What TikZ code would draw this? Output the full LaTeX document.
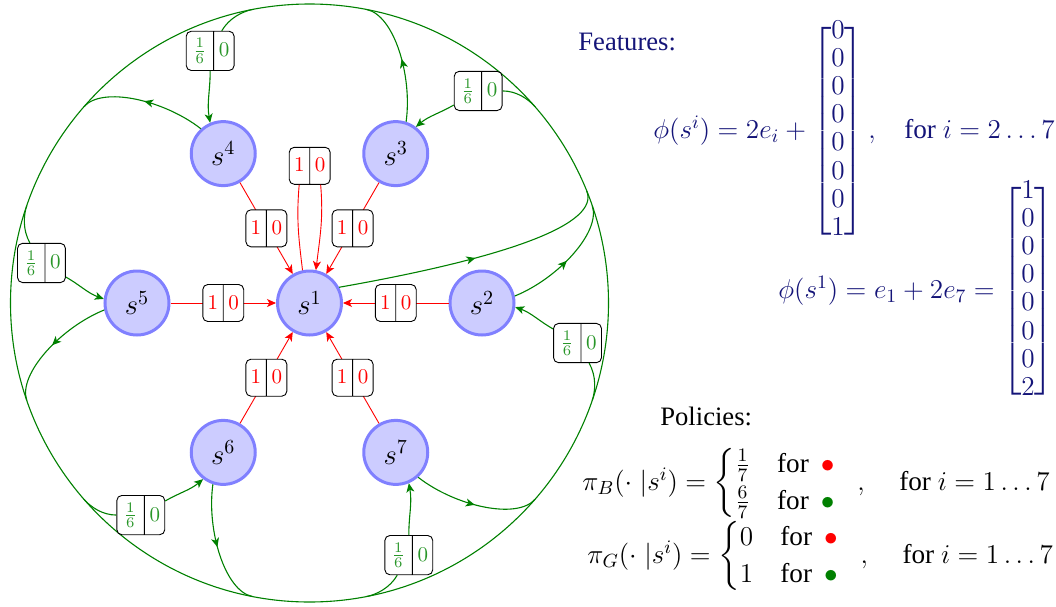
\RequirePackage{fix-cm}
\documentclass[12pt,tikz,border=0pt]{standalone}
\usepackage{amsmath}
\usepackage[no-math]{fontspec}
\setmainfont{Liberation Serif}
\usetikzlibrary{arrows.meta,shapes.multipart,decorations.markings,calc}
\definecolor{grn}{RGB}{0,128,0}
\definecolor{gtext}{RGB}{40,150,40}
\definecolor{navy}{RGB}{20,20,120}
\definecolor{nodefill}{RGB}{204,204,255}
\definecolor{nodedraw}{RGB}{128,128,255}
\newcommand\bstrut{\rule[-3pt]{0pt}{12pt}}
\newcommand\eqfont{\fontsize{13.6}{15.5}\selectfont}
\newcommand\hdfont{\fontsize{13.3}{15.5}\selectfont}
\newcommand\tightmat{\renewcommand\arraystretch{0.91}\delimiterfactor=850 \delimitershortfall=10pt }
\begin{document}
\begin{tikzpicture}[x=0.5pt,y=0.5pt,
  state/.style={circle, fill=nodefill, draw=nodedraw, line width=1.5pt, minimum size=32pt, inner sep=0pt, font=\fontsize{14.4}{17}\selectfont},
  lbox/.style={rectangle split, rectangle split horizontal, rectangle split parts=2, draw=black, line width=0.45pt, rounded corners=2.5pt, fill=white, inner xsep=2pt, inner ysep=3.25pt, font=\fontsize{10.5}{12}\selectfont},
  rbox/.style={lbox, text=red},
  gbox/.style={lbox, text=gtext, inner ysep=3.5pt},
  tip/.style={-{Stealth[length=4.5pt,width=4pt,inset=1.2pt]}},
  redarr/.style={red, line width=0.45pt, tip},
  grnline/.style={grn, line width=0.55pt},
  midarr/.style={postaction={decorate}, decoration={markings, mark=at position 0.5 with {\arrow{Stealth[length=4.5pt,width=4pt,inset=1.2pt]}}}},
  txt/.style={anchor=base west, inner sep=0pt, font=\eqfont},
  head/.style={anchor=base west, inner sep=0pt, font=\hdfont},
]
\useasboundingbox (0,0) rectangle (1056,-606);
\coordinate (C) at (309.5,-303);
\draw[grnline] (C) circle (299);

% states
\node[state] (s1) at (C) {$s^1$};
\foreach \i/\a in {2/0,3/60,4/120,5/180,6/240,7/300}{
  \node[state] (s\i) at ($(C)+(\a:172.5)$) {$s^{\i}$};
}

% red transitions to s1
\foreach \i in {2,...,7}{
  \draw[redarr] (s\i) -- node[rbox] {\bstrut\makebox[6pt]{$1$}\nodepart{two}\bstrut\makebox[6pt]{$0$}} (s1);
}
% self loop on s1
\node[rbox] (lb) at (309.7,-165.8) {\bstrut\makebox[6pt]{$1$}\nodepart{two}\bstrut\makebox[6pt]{$0$}};
\draw[red, line width=0.45pt] (s1.102) to[out=97,in=265] (lb.241);
\draw[redarr] (lb.300) to[out=275,in=83] (s1.79);

% green: s1 out
\coordinate (o1) at ($(C)+(22:299)$);
\draw[grnline, midarr] (s1.28) .. controls +(10:175) and +(-68:35) .. (o1);

% green out/in for s2..s7
\foreach \i/\a in {2/0,3/60,4/120,5/180,6/240,7/300}{
  \pgfmathtruncatemacro\sa{\a+12}
  \pgfmathtruncatemacro\so{\a+22}
  \pgfmathtruncatemacro\oth{\a+19}
  \pgfmathtruncatemacro\oin{\a-71}
  \pgfmathtruncatemacro\ith{\a-19}
  \pgfmathtruncatemacro\iout{\a+71}
  \pgfmathtruncatemacro\bin{\a-60}
  \pgfmathtruncatemacro\bout{\a+150}
  \pgfmathtruncatemacro\nin{\a-20}
  \pgfmathtruncatemacro\nan{\a+353}
  \coordinate (o\i) at ($(C)+(\oth:299)$);
  \coordinate (i\i) at ($(C)+(\ith:299)$);
  \draw[grnline, midarr] (s\i.\sa) to[out=\so,in=\oin,in looseness=0.6] (o\i);
  \node[gbox] (b\i) at ($(C)+(\a-8.5:271)$) {\bstrut\makebox[9.5pt]{$\frac{1}{6}$}\nodepart{two}\bstrut\makebox[6pt]{$0$}};
  \draw[grnline] (i\i) to[out=\iout,in=\bin,out looseness=0.7] (b\i);
  \draw[grnline, tip] (b\i) to[out=\bout,in=\nin] (s\i.\nan);
}

% text
\node[head, text=navy] (feat) at (578,-50) {Features:};
\node[txt, text=navy] (eqA) at (653,-138) {\tightmat$\phi(s^i) = 2e_i + \begin{bmatrix}0\\0\\0\\0\\0\\0\\0\\1\end{bmatrix}\hspace{0pt},\hspace{12pt}\text{for } i = 2\dots7$};
\node[txt, text=navy] (eqB) at (778,-298) {\tightmat$\phi(s^1) = e_1 + 2e_7 = \begin{bmatrix}1\\0\\0\\0\\0\\0\\0\\2\end{bmatrix}$};
\node[head] (pol) at (660,-425) {Policies:};
\node[txt] (piB) at (582,-490) {$\pi_B(\cdot\;|s^i) = \begin{cases}\frac{1}{7} & \text{for}\hspace{6pt}{\color{red}\bullet}\\ \frac{6}{7} & \text{for}\hspace{6pt}{\color{grn}\bullet}\end{cases}\hspace{8pt},\hspace{15pt}\text{for } i = 1\dots7$};
\node[txt] (piG) at (587,-563) {$\pi_G(\cdot\;|s^i) = \begin{cases}0 & \text{for}\hspace{6pt}{\color{red}\bullet}\\ 1 & \text{for}\hspace{6pt}{\color{grn}\bullet}\end{cases}\hspace{8pt},\hspace{15pt}\text{for } i = 1\dots7$};
\end{tikzpicture}
\end{document}
